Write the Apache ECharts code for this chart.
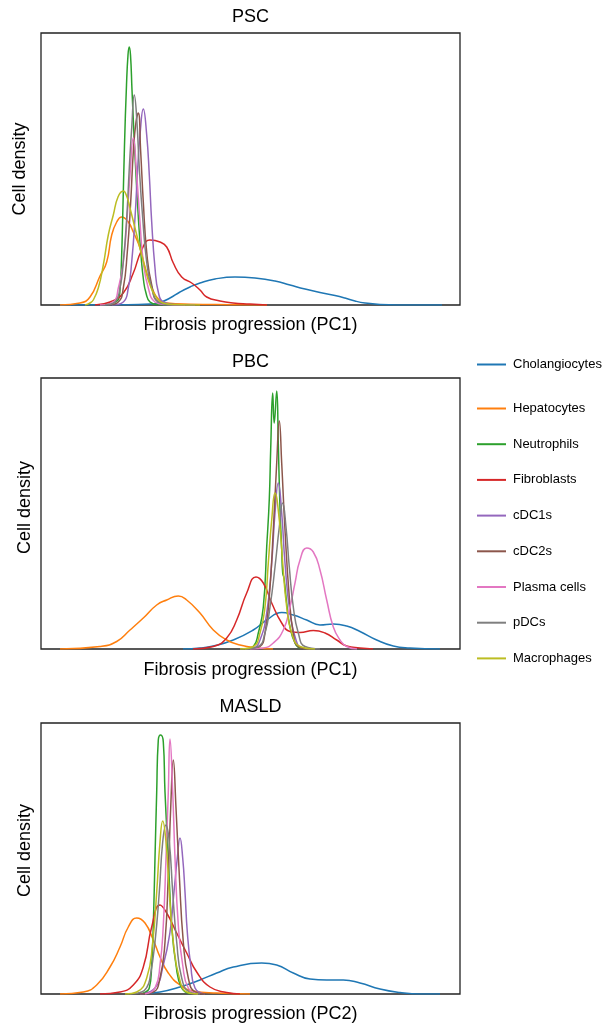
<!DOCTYPE html>
<html>
<head>
<meta charset="utf-8">
<script src="https://cdn.jsdelivr.net/npm/echarts@6/dist/echarts.min.js"></script>
<style>html,body{margin:0;padding:0;background:#fff}#c{width:606px;height:1025px}</style>
</head>
<body>
<div id="c"></div>
<script>
// Cell types (legend order) and colours
const cellTypes = ['Cholangiocytes','Hepatocytes','Neutrophils','Fibroblasts','cDC1s','cDC2s','Plasma cells','pDCs','Macrophages'];
const colors = ['#1f77b4','#ff7f0e','#2ca02c','#d62728','#9467bd','#8c564b','#e377c2','#7f7f7f','#bcbd22'];
const panelTitles = ['PSC','PBC','MASLD'];
const xLabels = ['Fibrosis progression (PC1)','Fibrosis progression (PC1)','Fibrosis progression (PC2)'];
const yLabel = 'Cell density';

// ---- PSC densities: [progression score, density] ----
const pscCholangiocytes = [[60,0],[120,0.3],[150,1],[160,2.5],[170,7],[180,13],[190,18],[200,22],[215,26],[235,28],[255,27],[275,24],[290,20],[305,16],[320,12.5],[335,9.5],[345,7],[355,4],[365,2],[380,0.6],[400,0.1],[442,0]];
const pscHepatocytes = [[60,0],[80,2],[90,8],[100,29],[106.7,43],[111.7,70],[116.7,83],[121.7,88],[128.3,83],[133.3,73],[140,57],[145,38],[151.7,18],[158.3,6],[166.7,2],[190,0.8],[230,0.3],[267,0]];
const pscNeutrophils = [[100,0],[118,5],[120,15],[121.5,45],[123,100],[124.5,160],[126.5,220],[128,250],[129.2,258],[130.5,250],[132,215],[134,170],[136,130],[138.5,85],[141,50],[143.5,25],[146,12],[150,3],[158,0.5],[180,0]];
const pscFibroblasts = [[95,0],[110,3],[123.3,12],[133.3,32],[141.7,55],[150,65],[160,63],[166.7,58],[173.3,42],[181.7,28],[191.7,22],[200,15],[206.7,8],[220,4],[233,2],[250,1],[267,0]];
const pscCDC1s = [[112,0],[123.3,3],[128.3,17],[131.7,43],[135,87],[137.7,137],[140,170],[143.3,196],[146.7,170],[149.3,130],[151.7,83],[155,37],[158.3,13],[163.3,3],[175,0.5],[195,0]];
const pscCDC2s = [[108,0],[118.3,3],[123.3,17],[127.3,53],[130.7,103],[133.3,153],[136,183],[138.3,192],[140.7,153],[143.3,103],[146.7,53],[151.7,20],[158.3,3],[170,0.5],[190,0]];
const pscPlasma = [[100,0],[113.3,3],[118.3,17],[123.3,43],[127.3,90],[130,130],[133.3,167],[136.7,130],[140,83],[143.3,43],[148.3,17],[155,3],[165,0.5],[185,0]];
const pscPDCs = [[105,0],[115,3],[120,17],[123.3,43],[126.7,87],[129.3,137],[131.7,177],[134.3,210],[136.7,187],[139.3,137],[142.7,87],[146.7,43],[151.7,17],[158.3,3],[170,0.5],[190,0]];
const pscMacrophages = [[85,0],[90,2],[93.3,5],[98.3,17],[103.3,40],[108.3,70],[113.3,90],[118,108],[123.3,114],[127,108],[130,97],[135,77],[140,57],[145,37],[150,20],[156.7,7],[163,2],[175,0.5],[200,0]];

// ---- PBC densities ----
const pbcCholangiocytes = [[183,0],[200,1],[213.3,3],[233.3,9],[253.3,19],[266.7,29],[281.7,36.5],[293.3,34],[306.7,29],[320,24],[333.3,25],[346.7,23],[360,17.5],[376.7,9],[393.3,3],[410,1],[440,0]];
const pbcHepatocytes = [[60,0],[100,2.5],[116.7,7.5],[130,19],[143.3,31],[156.7,44],[166.7,49],[178.3,53],[186.7,49],[200,36],[213.3,19],[226.7,9],[240,4],[256.7,1],[273,0]];
const pbcNeutrophils = [[245,0],[253.3,2.5],[258.3,16],[263.3,42],[266.7,102],[269.3,150],[270.7,200],[272.7,256],[274.2,226],[276.7,258],[278.3,205],[280,140],[281.7,100],[282.7,76],[284,71],[286.7,46],[290,22],[295,6],[300,1],[310,0]];
const pbcFibroblasts = [[193,0],[213.3,2.5],[226.7,11],[236.7,29],[246.7,56],[256,72],[263.3,66],[271.7,46],[281.7,26],[290,17.5],[300,16.5],[313.3,18.5],[325,16],[336.7,9],[346.7,3],[360,1],[373,0]];
const pbcCDC1s = [[245,0],[253.3,1],[260,9],[266.7,36],[271.7,86],[275,136],[278.3,166],[281.7,136],[285,86],[290,36],[296,9],[301.7,1],[310,0]];
const pbcCDC2s = [[250,0],[260,2.5],[265,16],[269.3,52],[273.3,119],[276.7,186],[279.3,228],[281.7,186],[285,119],[289.3,52],[293.3,16],[298.3,2.5],[310,0]];
const pbcPlasma = [[250,0],[263.3,1],[273.3,6],[283.3,19],[290,42],[295,66],[300,89],[306.7,101],[313.3,97],[320,79],[326.7,49],[333.3,22],[340,9],[346.7,2.5],[357,0]];
const pbcPDCs = [[245,0],[258.3,2.5],[265,16],[270,42],[275,82],[279.3,122],[282.7,146],[286,122],[289.3,82],[293.3,42],[298.3,16],[305,2.5],[320,0]];
const pbcMacrophages = [[240,0],[253.3,2.5],[260,16],[265,42],[268.3,86],[271.7,129],[275,156],[279.3,129],[282.7,86],[286.7,42],[291.7,16],[300,2.5],[315,0]];

// ---- MASLD densities ----
const masldCholangiocytes = [[140,0],[160,2],[180,7],[200,14],[216.7,21],[233.3,27],[261.7,31],[276.7,29],[293.3,21],[310,15],[326.7,14],[343.3,14],[360,11],[380,5],[400,1.5],[420,0],[440,0]];
const masldHepatocytes = [[60,0],[83.3,2],[96.7,9],[110,27],[120,47],[128.3,67],[136.7,76],[145,71],[153.3,54],[160,37],[168.3,21],[180,9],[193.3,3],[216.7,1],[250,0]];
const masldNeutrophils = [[140,0],[149.3,6],[151.7,29],[153.3,69],[155,136],[156.7,202],[158.3,254],[160.7,259],[163.3,252],[165,202],[168.3,136],[171.7,69],[176,29],[181.7,6],[190,0]];
const masldFibroblasts = [[100,0],[120,2],[133.3,9],[143.3,27],[151.7,67],[160,89],[166.7,81],[176.7,61],[186.7,41],[196.7,22],[210,7],[226.7,1.5],[240,0]];
const masldCDC1s = [[140,0],[155,6],[163.3,29],[170,62],[174,102],[177.3,136],[180,156],[182.7,136],[185,102],[187.3,62],[190.7,29],[195,6],[205,0]];
const masldCDC2s = [[140,0],[153.3,2],[160,16],[165,52],[168.3,119],[170.7,186],[173.3,234],[176,186],[179.3,119],[183.3,52],[188.3,16],[195,2],[205,0]];
const masldPlasma = [[145,0],[155,6],[160,29],[163.3,69],[166,136],[168.3,202],[170,255],[172.7,202],[175,136],[178.3,69],[182.7,29],[188.3,6],[198,0]];
const masldPDCs = [[130,0],[141.7,2],[147,7],[150,16],[155,52],[159.3,102],[162.7,152],[166,169],[169.3,152],[172.7,102],[176.7,52],[181.7,16],[189.3,2],[200,0]];
const masldMacrophages = [[125,0],[136.7,2],[146.7,16],[152.7,52],[156.7,102],[160,152],[162.7,173],[166,152],[169.3,102],[173.3,52],[179.3,16],[186.7,2],[198,0]];

const panels = [
  [pscCholangiocytes,pscHepatocytes,pscNeutrophils,pscFibroblasts,pscCDC1s,pscCDC2s,pscPlasma,pscPDCs,pscMacrophages],
  [pbcCholangiocytes,pbcHepatocytes,pbcNeutrophils,pbcFibroblasts,pbcCDC1s,pbcCDC2s,pbcPlasma,pbcPDCs,pbcMacrophages],
  [masldCholangiocytes,masldHepatocytes,masldNeutrophils,masldFibroblasts,masldCDC1s,masldCDC2s,masldPlasma,masldPDCs,masldMacrophages]
];

const FONT = '"Liberation Sans", Arial, Helvetica, sans-serif';
const gridTops = [33, 378, 723];
const gridHeights = [272, 271, 271];
const titleY = [17.3, 361.7, 706.7];
const xLabelY = [325.5, 670, 1014.5];
const yLabelPos = [[20.5,169],[25,507.5],[25,850.5]];

const grids = [], xAxes = [], yAxes = [], series = [], graphics = [];
panels.forEach((sets, p) => {
  grids.push({left: 41, top: gridTops[p], width: 419, height: gridHeights[p], show: true,
    borderColor: '#222', borderWidth: 1.3, backgroundColor: 'transparent'});
  xAxes.push({type: 'value', gridIndex: p, min: 41, max: 460,
    axisLine: {show: false}, axisTick: {show: false}, axisLabel: {show: false}, splitLine: {show: false}});
  yAxes.push({type: 'value', gridIndex: p, min: 0, max: gridHeights[p],
    axisLine: {show: false}, axisTick: {show: false}, axisLabel: {show: false}, splitLine: {show: false}});
  sets.forEach((d, i) => {
    series.push({name: cellTypes[i], type: 'line', xAxisIndex: p, yAxisIndex: p, data: d,
      symbol: 'none', smooth: 0.5, clip: true,
      lineStyle: {color: colors[i], width: 1.5}, itemStyle: {color: colors[i]},
      animation: false, silent: true});
  });
  graphics.push({type: 'text', x: 250.5, y: titleY[p], style: {text: panelTitles[p], fontSize: 18, fontFamily: FONT, fill: '#000', align: 'center', verticalAlign: 'middle'}});
  graphics.push({type: 'text', x: 250.5, y: xLabelY[p], style: {text: xLabels[p], fontSize: 18, fontFamily: FONT, fill: '#000', align: 'center', verticalAlign: 'middle'}});
  graphics.push({type: 'text', x: yLabelPos[p][0], y: yLabelPos[p][1], rotation: Math.PI/2, style: {text: yLabel, fontSize: 18, fontFamily: FONT, fill: '#000', align: 'center', verticalAlign: 'middle'}});
});

const legendCommon = {orient: 'vertical', left: 476, padding: 0, itemWidth: 29, itemHeight: 14,
  itemStyle: {opacity: 0},
  textStyle: {fontSize: 13, fontFamily: FONT, color: '#000', padding: [0, 0, 0, 2]}, selectedMode: false};

const chart = echarts.init(document.getElementById('c'), null, {renderer: 'canvas'});
chart.setOption({
  animation: false,
  backgroundColor: '#fff',
  grid: grids, xAxis: xAxes, yAxis: yAxes, series: series,
  legend: [
    Object.assign({}, legendCommon, {top: 358, data: [cellTypes[0]]}),
    Object.assign({}, legendCommon, {top: 402, itemGap: 22.7, data: cellTypes.slice(1)})
  ],
  graphic: graphics
});
</script>
</body>
</html>
